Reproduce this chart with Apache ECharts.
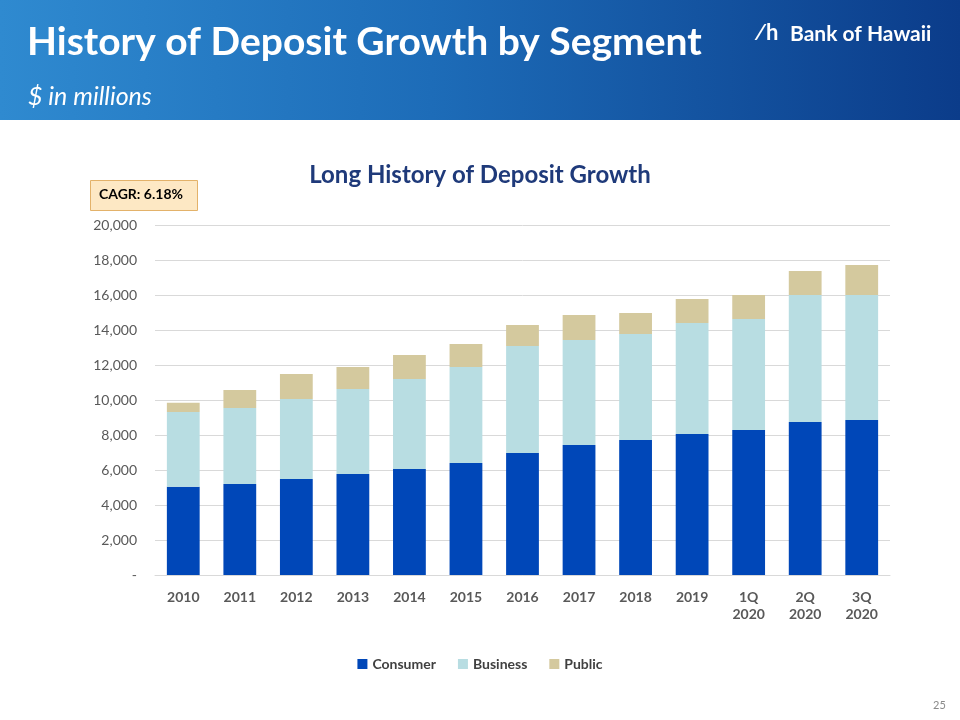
<!DOCTYPE html>
<html><head><meta charset="utf-8">
<script src="https://cdn.jsdelivr.net/npm/echarts@6/dist/echarts.min.js"></script>
<style>html,body{margin:0;padding:0;background:#fff}#c{width:960px;height:720px}</style>
</head><body><div id="c"></div>
<script>
const categories = ['2010','2011','2012','2013','2014','2015','2016','2017','2018','2019','1Q\n2020','2Q\n2020','3Q\n2020'];
const consumer = [5050, 5200, 5490, 5770, 6060, 6400, 6970, 7430, 7710, 8060, 8290, 8740, 8860];
const business = [4270, 4340, 4570, 4860, 5140, 5490, 6120, 6000, 6060, 6340, 6340, 7260, 7140];
const publicDep = [520, 1030, 1430, 1260, 1370, 1310, 1200, 1430, 1200, 1370, 1370, 1370, 1710];
const yTicks = [0, 2000, 4000, 6000, 8000, 10000, 12000, 14000, 16000, 18000, 20000];

const font = 'Lato, "Open Sans", sans-serif';
const chart = echarts.init(document.getElementById('c'), null, {renderer: 'canvas'});
chart.setOption({
  animation: false,
  textStyle: {fontFamily: font},
  title: {
    text: 'Long History of Deposit Growth',
    left: 'center', top: 158,
    textStyle: {color: '#1f3a7a', fontSize: 24, fontWeight: 'bold', fontFamily: font}
  },
  graphic: [
    {type: 'rect', left: 0, top: 0, z: -1, shape: {width: 960, height: 120},
     style: {fill: new echarts.graphic.LinearGradient(0, 0, 1, 0, [
       {offset: 0, color: '#2f8ad0'}, {offset: 0.45, color: '#1d6cb8'}, {offset: 1, color: '#0b3c8a'}])}},
    {type: 'text', left: 27, top: 23, style: {text: 'History of Deposit Growth by Segment', fill: '#fff', font: 'bold 39px ' + font}},
    {type: 'text', left: 28, top: 84, style: {text: '$ in millions', fill: '#fff', font: 'italic 25px ' + font}},
    {type: 'text', left: 755, top: 22, style: {text: '\u2215h', fill: '#fff', font: 'bold 22px ' + font}},
    {type: 'text', left: 790, top: 24, style: {text: 'Bank of Hawaii', fill: '#fff', font: 'bold 21px ' + font}},
    {type: 'rect', left: 90, top: 180, shape: {width: 107, height: 30},
     style: {fill: '#fde8c4', stroke: '#e3b26a', lineWidth: 1}},
    {type: 'text', left: 99, top: 187, style: {text: 'CAGR: 6.18%', fill: '#000', font: 'bold 14px ' + font}},
    {type: 'text', left: 933, top: 700, style: {text: '25', fill: '#8a8a8a', font: '11px ' + font}}
  ],
  grid: {left: 155, right: 70, top: 225, bottom: 145, containLabel: false},
  legend: {
    bottom: 44, left: 'center', itemWidth: 10, itemHeight: 10, itemGap: 22,
    icon: 'rect',
    textStyle: {color: '#404040', fontSize: 14, fontWeight: 'bold', fontFamily: font},
    data: ['Consumer', 'Business', 'Public']
  },
  xAxis: {
    type: 'category', data: categories,
    axisLine: {lineStyle: {color: '#d9d9d9'}},
    axisTick: {show: false},
    axisLabel: {color: '#595959', fontSize: 14, fontWeight: 'bold', margin: 14, lineHeight: 17, fontFamily: font}
  },
  yAxis: {
    type: 'value', min: 0, max: 20000, interval: 2000,
    axisLine: {show: false}, axisTick: {show: false},
    splitLine: {lineStyle: {color: '#d9d9d9'}},
    axisLabel: {color: '#595959', fontSize: 14, margin: 18, fontFamily: font,
      formatter: v => v === 0 ? '-' : v.toLocaleString('en-US')}
  },
  series: [
    {name: 'Consumer', type: 'bar', stack: 't', data: consumer, barWidth: '58%', itemStyle: {color: '#0047b8'}},
    {name: 'Business', type: 'bar', stack: 't', data: business, itemStyle: {color: '#b8dde2'}},
    {name: 'Public', type: 'bar', stack: 't', data: publicDep, itemStyle: {color: '#d4c99e'}}
  ]
});
</script></body></html>
